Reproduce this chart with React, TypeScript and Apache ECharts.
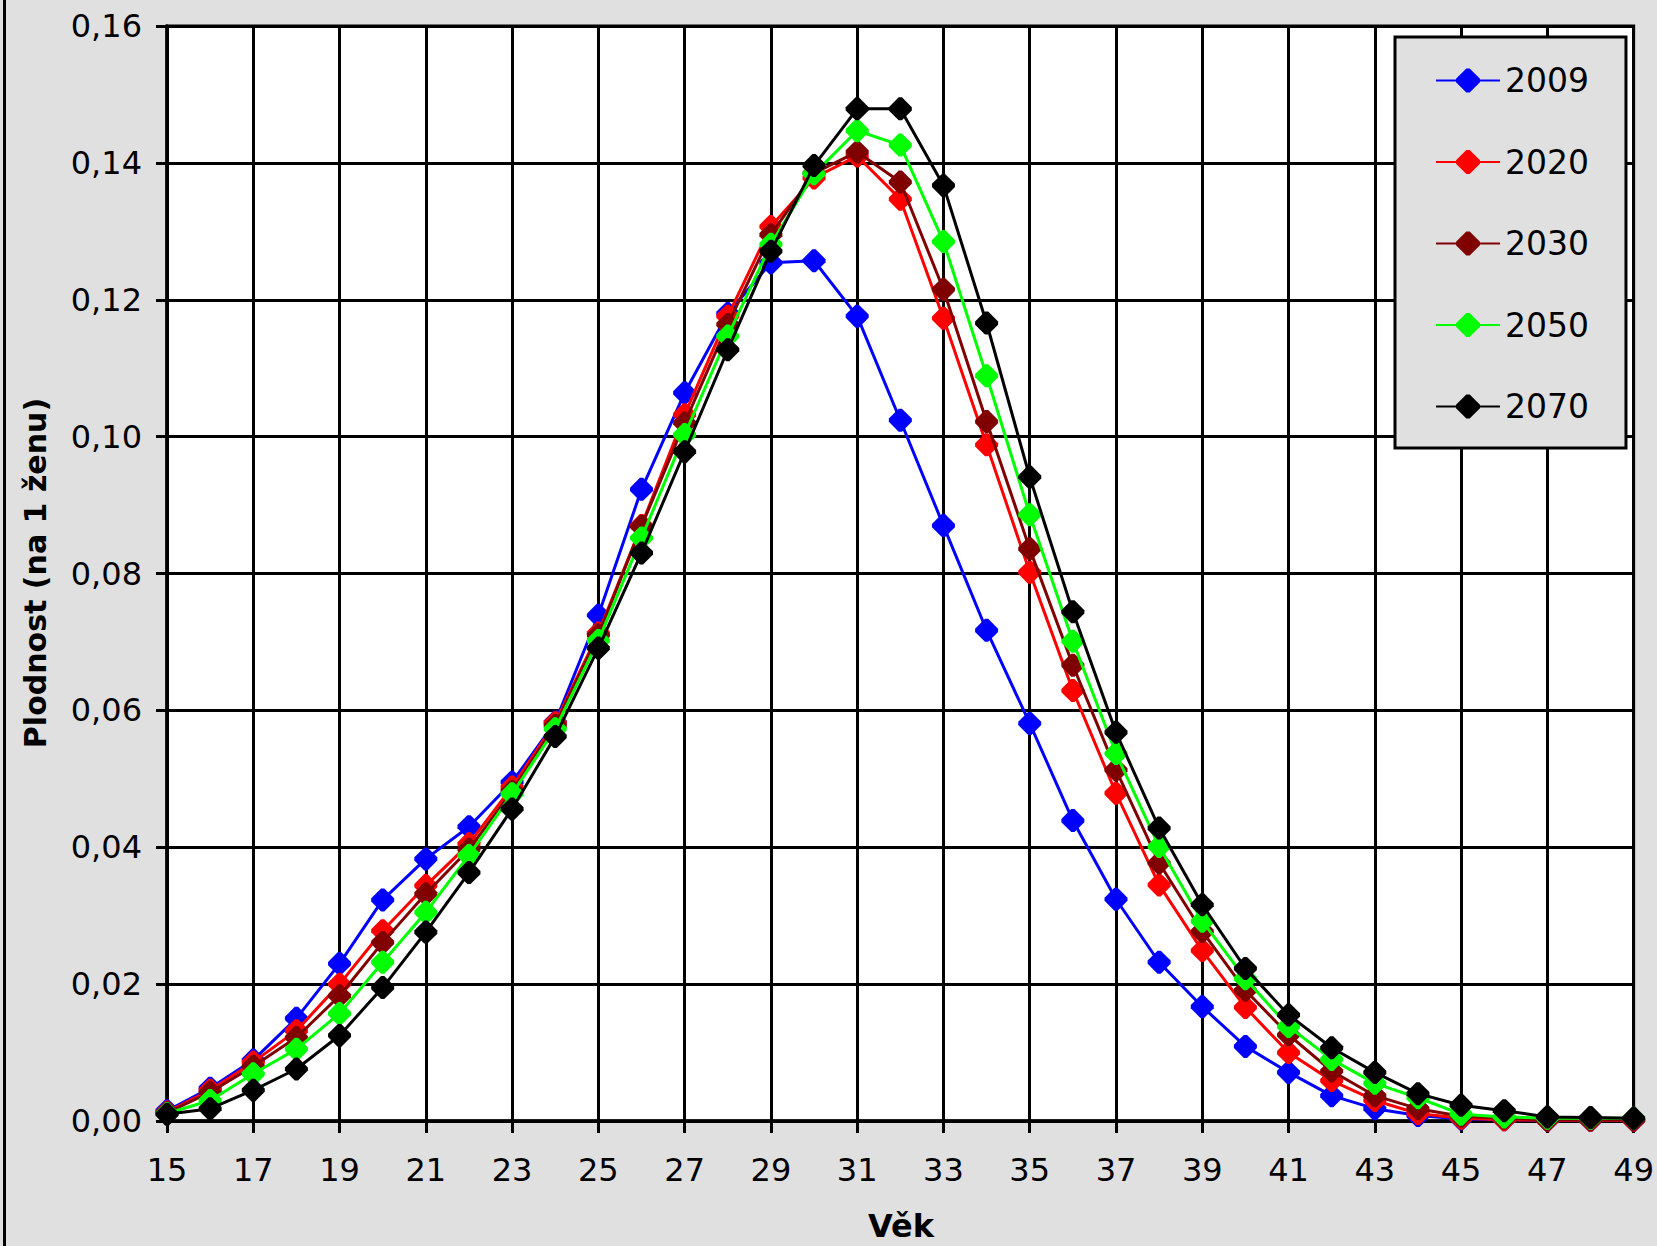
import React, { useEffect, useRef } from "react";
import * as echarts from "echarts";

const AGES = ["15","16","17","18","19","20","21","22","23","24","25","26","27","28","29","30","31","32","33","34","35","36","37","38","39","40","41","42","43","44","45","46","47","48","49"];

const Y_TICKS_MIN = 0;
const Y_TICKS_MAX = 0.16;
const Y_TICKS_STEP = 0.02;

const SERIES_NAMES = ["2009", "2020", "2030", "2050", "2070"];
const SERIES_COLORS = ["#0000ff", "#ff0000", "#800000", "#00ff00", "#000000"];

const V2009 = [0.0015, 0.0048, 0.0089, 0.0150, 0.0230, 0.0323, 0.0383, 0.0430, 0.0495, 0.0583, 0.0739, 0.0923, 0.1064, 0.1180, 0.1254, 0.1257, 0.1176, 0.1024, 0.0870, 0.0717, 0.0581, 0.0439, 0.0324, 0.0232, 0.0167, 0.0109, 0.0071, 0.0037, 0.0018, 0.0008, 0.0003, 0.0002, 0.0001, 0.0001, 0.0001];
const V2020 = [0.0013, 0.0045, 0.0086, 0.0132, 0.0200, 0.0278, 0.0344, 0.0405, 0.0488, 0.0582, 0.0713, 0.0870, 0.1032, 0.1176, 0.1307, 0.1378, 0.1410, 0.1347, 0.1173, 0.0988, 0.0802, 0.0629, 0.0479, 0.0345, 0.0249, 0.0166, 0.0100, 0.0059, 0.0030, 0.0011, 0.0004, 0.0002, 0.0001, 0.0001, 0.0001];
const V2030 = [0.0012, 0.0042, 0.0080, 0.0122, 0.0183, 0.0261, 0.0332, 0.0397, 0.0482, 0.0578, 0.0710, 0.0869, 0.1020, 0.1164, 0.1295, 0.1385, 0.1416, 0.1372, 0.1215, 0.1022, 0.0836, 0.0666, 0.0513, 0.0377, 0.0277, 0.0191, 0.0126, 0.0073, 0.0037, 0.0018, 0.0007, 0.0004, 0.0002, 0.0002, 0.0002];
const V2050 = [0.0011, 0.0030, 0.0069, 0.0105, 0.0157, 0.0232, 0.0305, 0.0388, 0.0478, 0.0573, 0.0702, 0.0852, 0.1003, 0.1147, 0.1281, 0.1384, 0.1447, 0.1426, 0.1285, 0.1089, 0.0886, 0.0701, 0.0537, 0.0401, 0.0292, 0.0208, 0.0138, 0.0090, 0.0055, 0.0034, 0.0010, 0.0006, 0.0004, 0.0004, 0.0004];
const V2070 = [0.0010, 0.0018, 0.0045, 0.0076, 0.0125, 0.0195, 0.0276, 0.0363, 0.0456, 0.0562, 0.0691, 0.0830, 0.0978, 0.1127, 0.1271, 0.1396, 0.1479, 0.1479, 0.1367, 0.1166, 0.0941, 0.0744, 0.0568, 0.0428, 0.0316, 0.0223, 0.0155, 0.0107, 0.0071, 0.0040, 0.0023, 0.0015, 0.0006, 0.0005, 0.0004];

const SERIES_VALUES = [V2009, V2020, V2030, V2050, V2070];

const X_TITLE = "Věk";
const Y_TITLE = "Plodnost (na 1 ženu)";

const MARKER = "path://M4.3,0 L5.7,0 L10,4.3 L10,5.7 L5.7,10 L4.3,10 L0,5.7 L0,4.3 Z";
const FONT = "DejaVu Sans";

export default function App() {
  const ref = useRef<HTMLDivElement>(null);

  useEffect(() => {
    if (!ref.current) return;
    const chart = echarts.init(ref.current, null, { renderer: "svg" });

    const option: any = {
      animation: false,
      backgroundColor: "#e0e0e0",
      grid: {
        left: 167,
        top: 26,
        right: 22,
        bottom: 125,
        show: true,
        backgroundColor: "#ffffff",
        borderColor: "#000000",
        borderWidth: 3,
        containLabel: false,
      },
      legend: {
        orient: "vertical",
        left: 1395,
        top: 37,
        backgroundColor: "#e0e0e0",
        borderColor: "#000000",
        borderWidth: 3,
        padding: [27, 37, 25, 40],
        itemWidth: 64,
        itemHeight: 30,
        itemGap: 48.5,
        textStyle: { fontFamily: FONT, fontSize: 33, color: "#000000", lineHeight: 30 },
        data: SERIES_NAMES,
      },
      xAxis: {
        type: "category",
        data: AGES,
        boundaryGap: false,
        axisLine: { show: true, lineStyle: { color: "#000000", width: 3.5 } },
        axisTick: { show: true, interval: 1, length: 12, lineStyle: { color: "#000000", width: 3 } },
        axisLabel: { interval: 1, margin: 33, color: "#000000", fontFamily: FONT, fontSize: 32 },
        splitLine: { show: true, interval: 1, lineStyle: { color: "#000000", width: 3 } },
      },
      yAxis: {
        type: "value",
        min: Y_TICKS_MIN,
        max: Y_TICKS_MAX,
        interval: Y_TICKS_STEP,
        axisLine: { show: true, lineStyle: { color: "#000000", width: 3.5 } },
        axisTick: { show: true, length: 11, lineStyle: { color: "#000000", width: 3 } },
        axisLabel: {
          margin: 25,
          color: "#000000",
          fontFamily: FONT,
          fontSize: 32,
          formatter: (v: number) => v.toFixed(2).replace(".", ","),
        },
        splitLine: { show: true, lineStyle: { color: "#000000", width: 3 } },
      },
      series: SERIES_NAMES.map((name, i) => ({
        name,
        type: "line",
        data: SERIES_VALUES[i],
        symbol: MARKER,
        symbolSize: 23,
        showSymbol: true,
        color: SERIES_COLORS[i],
        lineStyle: { color: SERIES_COLORS[i], width: 3 },
        itemStyle: { color: SERIES_COLORS[i] },
        z: 2 + i,
      })),
      graphic: [
        {
          type: "rect",
          shape: { x: 3, y: 0, width: 3, height: 1246 },
          style: { fill: "#000000" },
          silent: true,
        },
        {
          type: "text",
          x: 35,
          y: 573,
          rotation: Math.PI / 2,
          style: {
            text: Y_TITLE,
            fontFamily: FONT,
            fontWeight: "bold",
            fontSize: 30,
            fill: "#000000",
            textAlign: "center",
            textVerticalAlign: "middle",
            align: "center",
            verticalAlign: "middle",
          },
        },
        {
          type: "text",
          x: 901,
          y: 1226,
          style: {
            text: X_TITLE,
            fontFamily: FONT,
            fontWeight: "bold",
            fontSize: 32,
            fill: "#000000",
            textAlign: "center",
            textVerticalAlign: "middle",
            align: "center",
            verticalAlign: "middle",
          },
        },
      ],
    };

    chart.setOption(option);
    return () => {
      chart.dispose();
    };
  }, []);

  return (
    <div
      ref={ref}
      style={{ position: "fixed", left: 0, top: 0, width: 1657, height: 1246 }}
    />
  );
}
